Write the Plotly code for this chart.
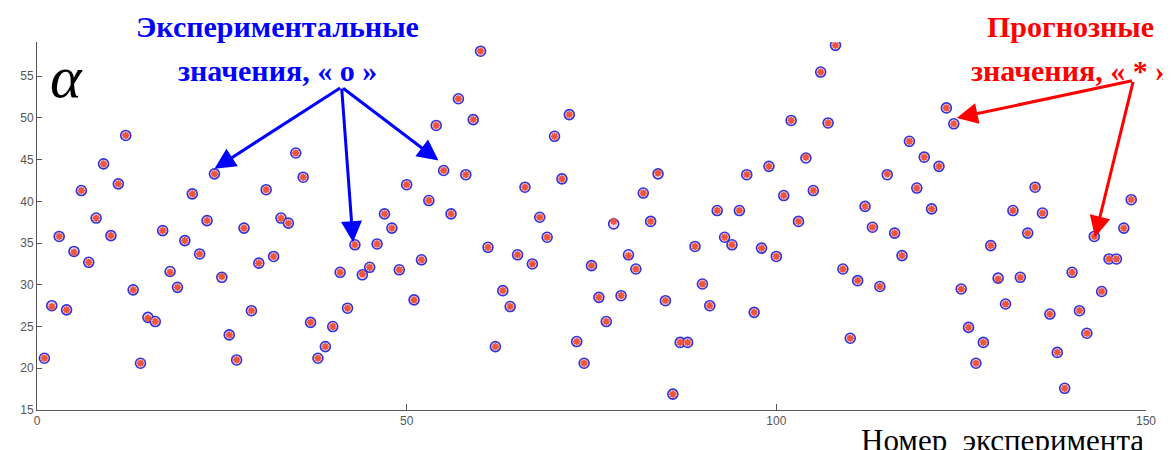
import plotly.graph_objects as go

experiment = list(range(1, 149))
measured = [
    21.2, 27.5, 35.8, 27.0, 34.0, 41.3, 32.7, 38.0, 44.5, 35.9,
    42.1, 47.9, 29.4, 20.6, 26.1, 25.6, 36.5, 31.6, 29.7, 35.3,
    40.9, 33.7, 37.7, 43.3, 30.9, 24.0, 21.0, 36.8, 26.9, 32.6,
    41.4, 33.4, 38.0, 37.4, 45.8, 42.9, 25.5, 21.2, 22.6, 25.0,
    31.5, 27.2, 34.8, 31.2, 32.1, 34.9, 38.5, 36.8, 31.8, 42.0,
    28.2, 33.0, 40.1, 49.1, 43.7, 38.5, 52.3, 43.2, 49.8, 58.0,
    34.5, 22.6, 29.3, 27.4, 33.6, 41.7, 32.5, 38.1, 35.7, 47.8,
    42.7, 50.4, 23.2, 20.6, 32.3, 28.5, 25.6, 37.3, 28.7, 33.6,
    31.9, 41.0, 37.6, 43.3, 28.1, 16.9, 23.1, 23.1, 34.6, 30.1,
    27.5, 38.9, 35.7, 34.8, 38.9, 43.2, 26.7, 34.4, 44.2, 33.4,
    40.7, 49.7, 37.6, 45.2, 41.3, 55.5, 49.4, 58.7, 31.9, 23.6,
    30.5, 39.4, 36.9, 29.8, 43.2, 36.2, 33.5, 47.2, 41.6, 45.3,
    39.1, 44.2, 51.2, 49.3, 29.5, 24.9, 20.6, 23.1, 34.7, 30.8,
    27.7, 38.9, 30.9, 36.2, 41.7, 38.6, 26.5, 21.9, 17.6, 31.5,
    26.9, 24.2, 35.8, 29.2, 33.1, 33.1, 36.8, 40.2,
]
predicted = [
    21.2, 27.4, 35.8, 27.0, 33.9, 41.3, 32.7, 38.0, 44.5, 35.9,
    42.1, 47.9, 29.4, 20.6, 26.0, 25.6, 36.5, 31.5, 29.7, 35.3,
    40.9, 33.7, 37.7, 43.3, 31.0, 24.0, 21.0, 36.8, 26.9, 32.6,
    41.4, 33.4, 38.0, 37.4, 45.8, 42.9, 25.5, 21.2, 22.6, 25.0,
    31.5, 27.2, 34.8, 31.3, 32.1, 34.9, 38.5, 36.8, 31.8, 42.0,
    28.2, 33.0, 40.1, 49.1, 43.7, 38.5, 52.3, 43.2, 49.8, 58.0,
    34.5, 22.6, 29.3, 27.4, 33.6, 41.7, 32.5, 38.1, 35.7, 47.8,
    42.7, 50.4, 23.2, 20.6, 32.3, 28.5, 25.6, 37.6, 28.7, 33.5,
    31.9, 41.0, 37.6, 43.4, 28.1, 16.9, 23.1, 23.1, 34.6, 30.1,
    27.5, 38.9, 35.7, 34.8, 38.9, 43.2, 26.7, 34.4, 44.2, 33.4,
    40.7, 49.7, 37.6, 45.3, 41.3, 55.5, 49.4, 58.7, 31.9, 23.6,
    30.5, 39.4, 36.9, 29.8, 43.3, 36.2, 33.5, 47.2, 41.6, 45.3,
    39.1, 44.2, 51.2, 49.3, 29.5, 24.9, 20.6, 23.1, 34.7, 30.7,
    27.7, 38.9, 30.9, 36.2, 41.7, 38.6, 26.5, 21.9, 17.6, 31.5,
    26.9, 24.2, 35.8, 29.2, 33.1, 33.1, 36.8, 40.2,
]
x_ticks = [0, 50, 100, 150]
y_ticks = [15, 20, 25, 30, 35, 40, 45, 50, 55]

fig = go.Figure()
fig.add_trace(go.Scatter(
    x=experiment, y=measured, mode="markers",
    marker=dict(symbol="circle", size=10, color="#f4d8e4",
                line=dict(width=1.6, color="#3232d8")),
    showlegend=False))
fig.add_trace(go.Scatter(
    x=experiment, y=predicted, mode="markers",
    marker=dict(symbol="asterisk-open", size=6,
                line=dict(width=1.8, color="#ff0000")),
    showlegend=False))

axis_font = dict(family="Liberation Sans, Arial", size=12, color="#555555")
fig.update_xaxes(range=[0, 150], tickvals=x_ticks, ticks="inside", ticklen=6,
                 tickcolor="#555555", showline=True, linecolor="#555555",
                 linewidth=1, showgrid=False, zeroline=False, tickfont=axis_font)
fig.update_yaxes(range=[15, 59.1], tickvals=y_ticks, ticks="inside", ticklen=5,
                 tickcolor="#555555", showline=True, linecolor="#555555",
                 linewidth=1, showgrid=False, zeroline=False, tickfont=axis_font)

blue = "#0000ff"
red = "#ff0000"
serif = "Liberation Serif, Times New Roman, serif"
PH = 368.0
PW = 1112.0
PX0 = 34.0
PY0 = 42.0


def px(xp):
    return (xp - PX0) / PW


def py(yp):
    return 1 + (PY0 - yp) / PH


annotations = [
    dict(text="<i>α</i>", xref="paper", yref="paper", x=px(45), y=py(42),
         xanchor="left", yanchor="top", showarrow=False,
         font=dict(family=serif, size=60, color="black")),
    dict(text="<b>Экспериментальные</b>", xref="paper", yref="paper",
         x=px(275), y=py(8), xanchor="center", yanchor="top",
         showarrow=False, font=dict(family=serif, size=30, color=blue)),
    dict(text="<b>значения, « о »</b>", xref="paper", yref="paper",
         x=px(275), y=py(52), xanchor="center", yanchor="top",
         showarrow=False, font=dict(family=serif, size=30, color=blue)),
    dict(text="<b>Прогнозные</b>", xref="paper", yref="paper",
         x=px(1070), y=py(8), xanchor="center", yanchor="top",
         showarrow=False, font=dict(family=serif, size=30, color=red)),
    dict(text="<b>значения, « * »</b>", xref="paper", yref="paper",
         x=px(1070), y=py(52), xanchor="center", yanchor="top",
         showarrow=False, font=dict(family=serif, size=30, color=red)),
    dict(text="Номер  эксперимента", xref="paper", yref="paper",
         x=px(1146), y=py(421), xanchor="right", yanchor="top",
         showarrow=False, font=dict(family=serif, size=31, color="black")),
]
arrows = [
    (24.0, 43.9, 41.2, 53.7, blue),
    (42.75, 35.1, 41.2, 53.7, blue),
    (54.3, 44.9, 41.2, 53.7, blue),
    (124.4, 50.0, 148.3, 54.5, red),
    (143.1, 35.7, 148.3, 54.5, red),
]
for tx, ty, sx, sy, c in arrows:
    annotations.append(dict(text="", x=tx, y=ty, ax=sx, ay=sy, xref="x", yref="y",
                            axref="x", ayref="y", showarrow=True, arrowhead=2,
                            arrowsize=1.4, arrowwidth=3, arrowcolor=c, standoff=0))

# page body has an 8px margin, so the figure is placed at (8, 8)
fig.update_layout(width=1163, height=442, margin=dict(l=26, r=25, t=34, b=40),
                  paper_bgcolor="white", plot_bgcolor="white",
                  annotations=annotations)
fig.write_html("out.html")
